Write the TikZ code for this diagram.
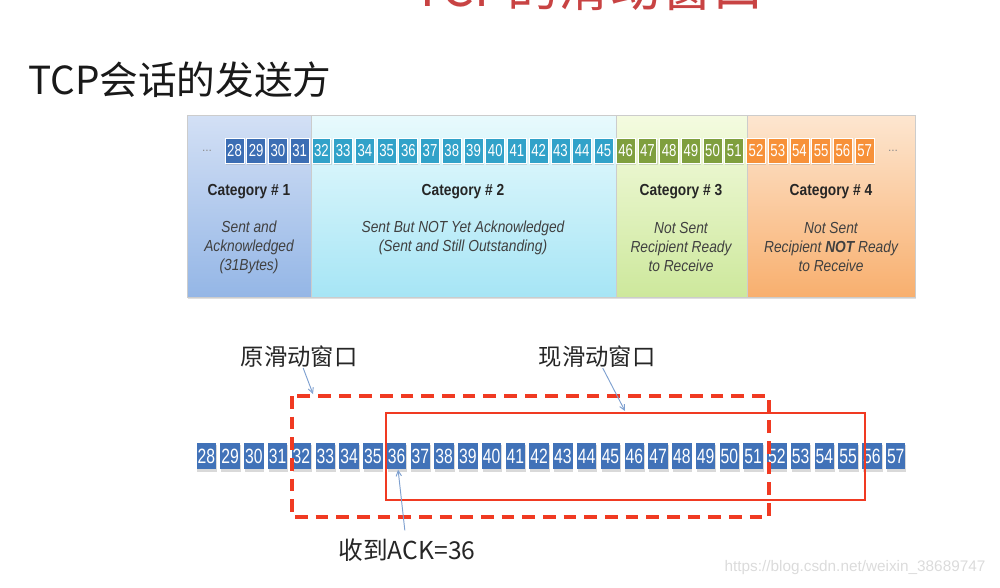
\documentclass[tikz,border=0pt]{standalone}
\usepackage{fontspec}
\setmainfont{Liberation Sans}
\newfontfamily\cjk{Noto Sans CJK SC}
\newfontfamily\narrow[FakeStretch=0.86]{Liberation Sans}
\newfontfamily\cellfont[FakeStretch=0.76]{Liberation Sans}
\usetikzlibrary{arrows.meta, positioning, calc, shadows}

\begin{document}
\begin{tikzpicture}[
    x=0.75pt, y=-0.75pt,
    every node/.style={inner sep=0pt},
    topcell/.style={minimum width=14.2pt, minimum height=18.8pt, draw=white,
        line width=0.6pt, text=white, font=\cellfont\fontsize{13}{13}\selectfont,
        drop shadow={shadow xshift=0.5pt, shadow yshift=-1.5pt, opacity=0.25}},
    botcell/.style={minimum width=14.6pt, minimum height=20.2pt, fill=cellblue,
        text=white, font=\cellfont\fontsize{15.5}{15.5}\selectfont,
        drop shadow={shadow xshift=0.6pt, shadow yshift=-1.8pt, opacity=0.3}},
    cathead/.style={font=\narrow\bfseries\fontsize{12}{12}\selectfont, text=black!85},
    catnote/.style={font=\narrow\itshape\fontsize{12}{14.25}\selectfont,
        text=black!75, align=center},
    winlabel/.style={font=\cjk\fontsize{17.5}{17.5}\selectfont, text=black!85},
    pointer/.style={-{Straight Barb[length=4pt, width=4pt]}, draw=arrowblue,
        line width=0.7pt},
    oldwin/.style={draw=winred, line width=2.3pt, dash pattern=on 9.5pt off 6pt},
    newwin/.style={draw=winred, line width=1.9pt},
]

\definecolor{titlered}{HTML}{C84343}
\definecolor{cellblue}{HTML}{4172B8}
\definecolor{cA}{HTML}{3C6EB4}   % sent and acked
\definecolor{cB}{HTML}{31A2C9}   % sent, not acked
\definecolor{cC}{HTML}{7F9F3E}   % not sent, ready
\definecolor{cD}{HTML}{F79139}   % not sent, not ready
\definecolor{arrowblue}{HTML}{7EA0D0}
\definecolor{winred}{HTML}{F03A22}

\useasboundingbox (0,0) rectangle (1000,587);
\clip (0,0) rectangle (1000,587);

% ---------------------------------------------------------------- titles
\node[font=\cjk\fontsize{38.5}{38.5}\selectfont, text=titlered, anchor=base]
    (title) at (588,6) {TCP的滑动窗口};
\node[font=\cjk\fontsize{29}{29}\selectfont, text=black!90, anchor=west]
    (sender) at (28,80) {TCP会话的发送方};

% ---------------------------------------------------------------- categories
\path[drop shadow={shadow xshift=1pt, shadow yshift=-1.5pt, opacity=0.25}]
    (187,115) rectangle (915,297);
\foreach \xa/\xb/\ctop/\cbot in {187/311/D3E0F5/94B6E6, 311/616/E8FAFD/A6E5F5,
                                 616/747/F4FBE0/CDE89C, 747/915/FDE6D0/F8AF6E} {
    \definecolor{ct}{HTML}{\ctop}
    \definecolor{cb}{HTML}{\cbot}
    \shade[top color=ct, bottom color=cb] (\xa,115) rectangle (\xb,297);
    \draw[black!20, line width=0.5pt] (\xa,115) rectangle (\xb,297);
}

\foreach \first/\last/\col in {28/31/cA, 32/45/cB, 46/51/cC, 52/57/cD} {
    \foreach \n in {\first,...,\last} {
        \node[topcell, fill=\col] (top\n) at ({234.5+21.73*(\n-28)}, 150.5) {\n};
    }
}
\node[font=\fontsize{9}{9}\selectfont, text=black!45] (dotsl) at (207,151) {...};
\node[font=\fontsize{9}{9}\selectfont, text=black!45] (dotsr) at (893,151) {...};

\node[cathead] (cat1) at (249,192) {Category \# 1};
\node[cathead] (cat2) at (463,192) {Category \# 2};
\node[cathead] (cat3) at (681,192) {Category \# 3};
\node[cathead] (cat4) at (831,192) {Category \# 4};

\node[catnote] (note1) at (249,247) {Sent and\\Acknowledged\\(31Bytes)};
\node[catnote] (note2) at (463,237.5)
    {Sent But NOT Yet Acknowledged\\(Sent and Still Outstanding)};
\node[catnote] (note3) at (681,247) {Not Sent\\Recipient Ready\\to Receive};
\node[catnote] (note4) at (831,247)
    {Not Sent\\Recipient \textbf{NOT} Ready\\to Receive};

% ---------------------------------------------------------------- window strip
\foreach \n in {28,...,57} {
    \node[botcell] (bot\n) at ({206.4+23.77*(\n-28)}, 456) {\n};
}

\coordinate (oldNW) at (292,396);
\coordinate (oldSE) at (769,517);
\coordinate (newNW) at (386,413);
\coordinate (newSE) at (865,500);
\draw[oldwin] (oldNW) rectangle (oldSE);
\draw[newwin] (newNW) rectangle (newSE);

\node[winlabel] (origlbl) at (299,357) {原滑动窗口};
\node[winlabel] (curlbl) at (597,357) {现滑动窗口};
\node[winlabel, font=\cjk\fontsize{18.5}{18.5}\selectfont] (acklbl) at (407,550)
    {收到ACK=36};

\coordinate (origtip) at (313,394);
\coordinate (curtip) at (625,411);
\draw[pointer] (origlbl) -- (origtip);
\draw[pointer] (curlbl) -- (curtip);
\draw[pointer, shorten <=6pt] (acklbl) -- (bot36);

\node[font=\fontsize{11.5}{11.5}\selectfont, text=black!14] (mark) at (855,568)
    {https://blog.csdn.net/weixin\_38689747};

\end{tikzpicture}
\end{document}
